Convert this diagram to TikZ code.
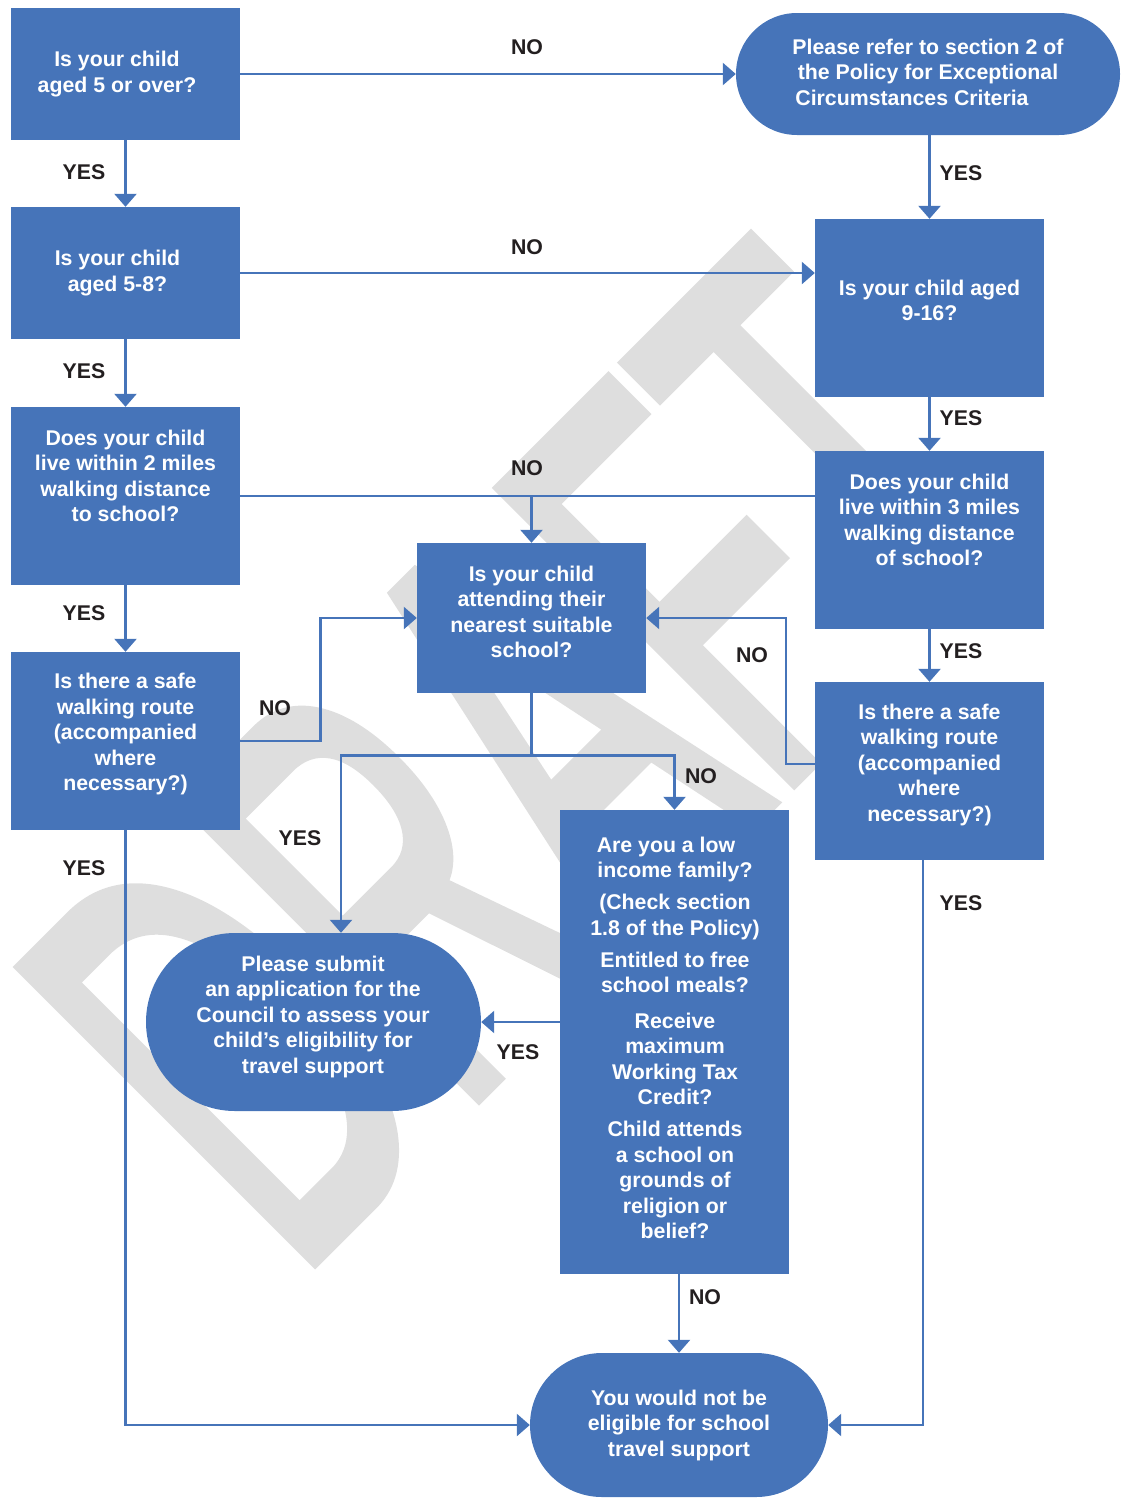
\documentclass[tikz,border=0pt]{standalone}
\usepackage{fontspec}
\setmainfont{Liberation Sans}
\newfontfamily\draftfont{Liberation Sans}[FakeBold=2.5]
\usetikzlibrary{arrows.meta}
\usetikzlibrary{calc}
\definecolor{FlowBlue}{RGB}{70,116,185}
\definecolor{LabelInk}{RGB}{35,31,32}
\definecolor{Watermark}{RGB}{222,222,222}
\newcommand{\boxfont}{\bfseries\fontsize{21.3}{25.5}\selectfont}
\newcommand{\nudge}[1]{\hspace*{#1pt}}
\tikzset{
  qbox/.style={rectangle, fill=FlowBlue, inner sep=0pt, minimum width=229pt},
  endbox/.style={rectangle, fill=FlowBlue, inner sep=0pt, rounded corners=#1},
  qtext/.style={text=white, align=center, inner sep=0pt, font=\boxfont},
  lab/.style={text=LabelInk, inner sep=0pt, font=\boxfont},
  link/.style={draw=FlowBlue, line width=2.6pt},
  flow/.style={link, -{Triangle[width=22pt,length=13pt]}},
  watermark/.style={anchor=base west, rotate=45, xscale=0.535, transform shape,
    text=Watermark, inner sep=0pt, font=\draftfont\fontsize{600}{640}\selectfont}
}

\begin{document}
\begin{tikzpicture}[x=1pt,y=-1pt]
  \useasboundingbox (0,0) rectangle (1120,1499);
  % watermark behind everything
  \node[watermark] (draft) at (294,1280) {DRAFT};

  % left column
  \node[qbox, minimum height=132pt] (over5) at (125.5,74) {};
  \node[qtext] (over5-t) at (117,74) {Is your child\\aged 5 or over?};
  \node[qbox, minimum height=132pt] (age58) at (125.5,273) {};
  \node[qtext] (age58-t) at (117.5,273) {Is your child\\aged 5-8?};
  \node[qbox, minimum height=178pt] (near2) at (125.5,496) {};
  \node[qtext] (near2-t) at ([yshift=20pt]near2.center) {Does your child\\live within 2 miles\\walking distance\\to school?};
  \node[qbox, minimum height=178pt] (safe2) at (125.5,741) {};
  \node[qtext] (safe2-t) at ([yshift=7pt]safe2.center) {Is there a safe\\walking route\\(accompanied\\where\\necessary?)};

  % right column
  \node[endbox=61pt, minimum width=384pt, minimum height=122pt] (refer) at (928,74) {};
  \node[qtext] (refer-t) at (928,72) {Please refer to section 2 of\\the Policy for Exceptional\nudge{56}\\Circumstances Criteria\nudge{32}};
  \node[qbox, minimum height=178pt] (age916) at (929.5,308) {};
  \node[qtext] (age916-t) at ([yshift=7.5pt]age916.center) {Is your child aged\\9-16?};
  \node[qbox, minimum height=178pt] (near3) at (929.5,540) {};
  \node[qtext] (near3-t) at ([yshift=20pt]near3.center) {Does your child\\live within 3 miles\\walking distance\\of school?};
  \node[qbox, minimum height=178pt] (safe3) at (929.5,771) {};
  \node[qtext] (safe3-t) at ([yshift=6.5pt]safe3.center) {Is there a safe\\walking route\\(accompanied\\where\\necessary?)};

  % middle
  \node[qbox, minimum height=150pt] (nearest) at (531.5,618) {};
  \node[qtext] (nearest-t) at ([yshift=6pt]nearest.center) {Is your child\\attending their\\nearest suitable\\school?};
  \node[qbox, minimum height=464pt] (lowinc) at (674.5,1042) {};
  \node[qtext] (lowinc-t) at (675,1038) {Are you a low\nudge{18}\\income family?\nudge{18}\\[6.5pt](Check section\nudge{18}\\1.8 of the Policy)\nudge{18}\\[6.5pt]Entitled to free\nudge{18}\\school meals?\nudge{18}\\[10pt]Receive\\maximum\\Working Tax\\Credit?\\[6.5pt]Child attends\\a school on\\grounds of\\religion or\\belief?};
  \node[endbox=89pt, minimum width=335pt, minimum height=178pt] (apply) at (313.5,1022) {};
  \node[qtext] (apply-t) at (313,1016.5) {Please submit\\an application for the\\Council to assess your\\child’s eligibility for\\travel support};
  \node[endbox=72pt, minimum width=298pt, minimum height=144pt] (noteligible) at (679,1425) {};
  \node[qtext] (noteligible-t) at (noteligible) {You would not be\\eligible for school\\travel support};

  % connectors
  \draw[flow] (over5.east) -- (refer.west);
  \draw[flow] (over5.south) -- (age58.north);
  \draw[flow] (age916.north |- refer.south) -- (age916.north);
  \draw[flow] (age58.east) -- (age58.east -| age916.west);
  \draw[flow] (age58.south) -- (near2.north);
  \draw[flow] (age916.south) -- (near3.north);
  \draw[link] (near2.east) -- (near2.east -| near3.west);
  \draw[flow] (nearest.north |- near2.east) -- (nearest.north);
  \draw[flow] (near2.south) -- (safe2.north);
  \draw[flow] (near3.south) -- (safe3.north);
  \draw[flow] (safe2.east) -- ++(80,0) |- (nearest.west);
  \draw[flow] ([yshift=7pt]safe3.west) -- ++(-29,0) |- (nearest.east);
  \draw[link] (nearest.south) -- ++(0,62) coordinate (split);
  \draw[flow] (split) -| ([xshift=27.5pt]apply.north);
  \draw[flow] (split) -| (lowinc.north);
  \draw[flow] (lowinc.west |- apply.east) -- (apply.east);
  \draw[flow] (noteligible.north |- lowinc.south) -- (noteligible.north);
  \draw[flow] (safe2.south) |- (noteligible.west);
  \draw[flow] ([xshift=-6.5pt]safe3.south) |- (noteligible.east);

  % labels
  \node[lab] (no-1) at (527,47) {NO};
  \node[lab] (yes-1) at (84,172) {YES};
  \node[lab] (yes-2) at (961,173) {YES};
  \node[lab] (no-2) at (527,247) {NO};
  \node[lab] (yes-3) at (84,371) {YES};
  \node[lab] (yes-4) at (961,418) {YES};
  \node[lab] (no-3) at (527,468) {NO};
  \node[lab] (yes-5) at (84,613) {YES};
  \node[lab] (yes-6) at (961,651) {YES};
  \node[lab] (no-4) at (275,708) {NO};
  \node[lab] (no-5) at (752,655) {NO};
  \node[lab] (no-6) at (701,776) {NO};
  \node[lab] (yes-7) at (300,838) {YES};
  \node[lab] (yes-8) at (84,868) {YES};
  \node[lab] (yes-9) at (961,903) {YES};
  \node[lab] (yes-10) at (518,1052) {YES};
  \node[lab] (no-7) at (705,1297) {NO};
\end{tikzpicture}
\end{document}
